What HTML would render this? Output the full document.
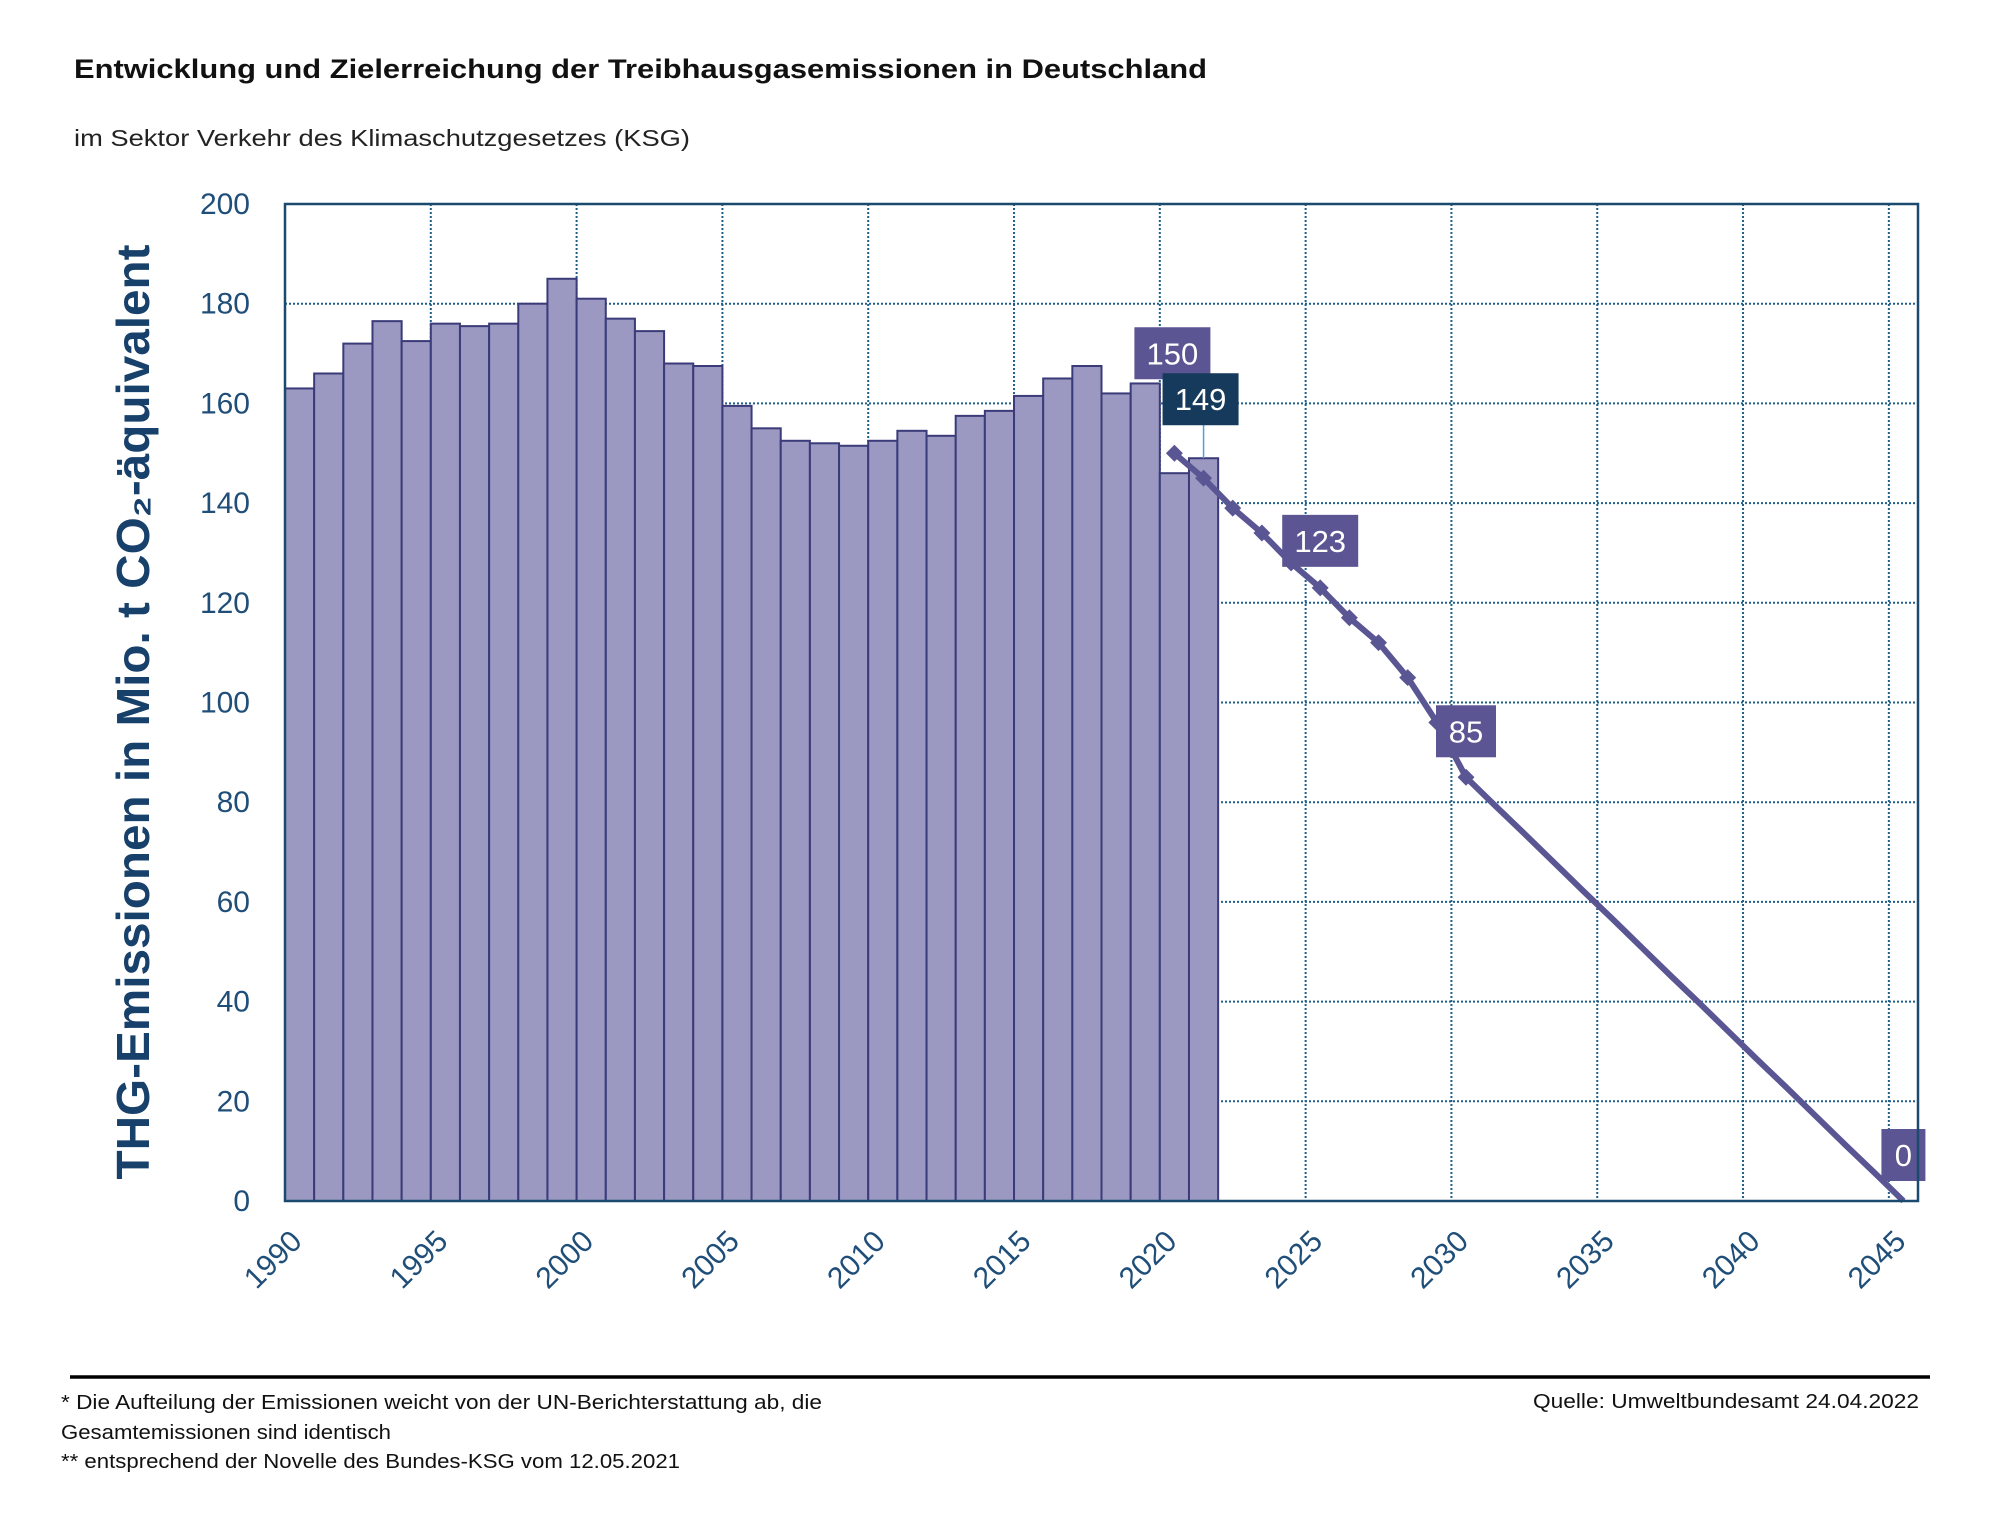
<!DOCTYPE html>
<html><head><meta charset="utf-8"><style>
body{margin:0;background:#fff;}
svg{display:block;font-family:"Liberation Sans",sans-serif;}
</style></head><body>
<svg id="c" width="1989" height="1527" viewBox="0 0 1989 1527" xmlns="http://www.w3.org/2000/svg">
<text x="74" y="78" font-size="27" font-weight="bold" fill="#111" textLength="1133" lengthAdjust="spacingAndGlyphs">Entwicklung und Zielerreichung der Treibhausgasemissionen in Deutschland</text>
<text x="74" y="146" font-size="23" fill="#222" textLength="616" lengthAdjust="spacingAndGlyphs">im Sektor Verkehr des Klimaschutzgesetzes (KSG)</text>
<g id="grid"></g>
<g id="bars"></g>
<g id="line"></g>
<g id="yaxis"></g>
<g id="xaxis"></g>
<g id="labels"></g>
<text transform="translate(149,712) rotate(-90)" text-anchor="middle" font-size="46" font-weight="bold" fill="#17406a" textLength="935" lengthAdjust="spacingAndGlyphs">THG-Emissionen in Mio. t CO₂-äquivalent</text>
<line x1="70" y1="1377" x2="1930" y2="1377" stroke="#000" stroke-width="3.5"/>
<text x="61" y="1409" font-size="20" fill="#111" textLength="761" lengthAdjust="spacingAndGlyphs">* Die Aufteilung der Emissionen weicht von der UN-Berichterstattung ab, die</text>
<text x="61" y="1439" font-size="20" fill="#111" textLength="330" lengthAdjust="spacingAndGlyphs">Gesamtemissionen sind identisch</text>
<text x="61" y="1468" font-size="20" fill="#111" textLength="619" lengthAdjust="spacingAndGlyphs">** entsprechend der Novelle des Bundes-KSG vom 12.05.2021</text>
<text x="1533" y="1408" font-size="20" fill="#111" textLength="386" lengthAdjust="spacingAndGlyphs">Quelle: Umweltbundesamt  24.04.2022</text>
</svg>
<script>
const barYears=[1990,1991,1992,1993,1994,1995,1996,1997,1998,1999,2000,2001,2002,2003,2004,2005,2006,2007,2008,2009,2010,2011,2012,2013,2014,2015,2016,2017,2018,2019,2020,2021];
const barValues=[163,166,172,176.5,172.5,176,175.5,176,180,185,181,177,174.5,168,167.5,159.5,155,152.5,152,151.5,152.5,154.5,153.5,157.5,158.5,161.5,165,167.5,162,164,146,149];
const lineYears=[2020,2021,2022,2023,2024,2025,2026,2027,2028,2029,2030,2031,2032,2033,2034,2035,2036,2037,2038,2039,2040,2041,2042,2043,2044,2045];
const lineValues=[150,145,139,134,128,123,117,112,105,96,85,79.3,73.7,68,62.3,56.7,51,45.3,39.7,34,28.3,22.7,17,11.3,5.7,0];
const markerUntil=2030;
const yTicks=[0,20,40,60,80,100,120,140,160,180,200];
const xTicks=[1990,1995,2000,2005,2010,2015,2020,2025,2030,2035,2040,2045];
const labelYears=[2020,2025,2030,2045];
const labelTexts=["150","123","85","0"];
const barLabel={year:2021,text:"149"};

const L=285,R=1918,T=204,B=1201,Y0=1990,NY=56;
const bw=(R-L)/NY;
const x=y=>L+(y-Y0)*bw;
const xc=y=>x(y)+bw/2;
const yv=v=>B-(v/200)*(B-T);
const NS="http://www.w3.org/2000/svg";
function mk(tag,parent,attrs){const e=document.createElementNS(NS,tag);for(const k in attrs)e.setAttribute(k,attrs[k]);parent.appendChild(e);return e;}
const grid=document.getElementById('grid');
yTicks.forEach(t=>{if(t===0||t===200)return;const l=mk('line',grid,{x1:L,x2:R,y1:yv(t),y2:yv(t),stroke:'#1f5f8b','stroke-width':2,'stroke-dasharray':'2,2'});

});
xTicks.forEach(t=>{if(t===1990)return;const l=mk('line',grid,{x1:x(t),x2:x(t),y1:T,y2:B,stroke:'#1f5f8b','stroke-width':2,'stroke-dasharray':'2,2'});

});
const bars=document.getElementById('bars');
barYears.forEach((yr,i)=>{const r=mk('rect',bars,{x:x(yr),y:yv(barValues[i]),width:bw,height:B-yv(barValues[i]),fill:'#9b99c1',stroke:'#3a3b78','stroke-width':2});

});
const frame=mk('rect',grid.parentNode,{x:L,y:T,width:R-L,height:B-T,fill:'none',stroke:'#1b4a6e','stroke-width':2.5});


const lg=document.getElementById('line');
const p=mk('polyline',lg,{points:lineYears.map((yr,i)=>xc(yr)+','+yv(lineValues[i])).join(' '),fill:'none',stroke:'#5a5593','stroke-width':6});


lineYears.forEach((yr,i)=>{if(yr>markerUntil)return;const m=mk('rect',lg,{x:xc(yr)-6,y:yv(lineValues[i])-6,width:12,height:12,fill:'#5a5593',transform:`rotate(45 ${xc(yr)} ${yv(lineValues[i])})`});

});
const ya=document.getElementById('yaxis');
yTicks.forEach(t=>{const e=mk('text',ya,{x:250,y:yv(t)+10,'text-anchor':'end','font-size':30,fill:'#1f4e79'});e.textContent=t;

});
const xa=document.getElementById('xaxis');
xTicks.forEach(t=>{const cx=xc(t)+4,cy=B+42;const e=mk('text',xa,{x:cx,y:cy,'text-anchor':'end','font-size':30,fill:'#1f4e79',transform:`rotate(-45 ${cx} ${cy})`});e.textContent=t;

});
const lb=document.getElementById('labels');
function box(cx,cy,txt,fill,name){const w=txt.length*16+28,h=52;const g=mk('g',lb,{});


mk('rect',g,{x:cx-w/2,y:cy-h/2,width:w,height:h,fill:fill});const t=mk('text',g,{x:cx,y:cy+11,'text-anchor':'middle','font-size':31,fill:'#fff'});t.textContent=txt;}
const offs={2020:[-2,-100],2025:[0,-47],2030:[0,-46],2045:[0,-46]};
labelYears.forEach((yr,i)=>{const v=lineValues[lineYears.indexOf(yr)];const o=offs[yr]||[0,-45];box(xc(yr)+o[0],yv(v)+o[1],labelTexts[i],'#5b5593','label-'+yr);});
const bi=barYears.indexOf(barLabel.year);
const bl=mk('line',lb,{x1:xc(barLabel.year),x2:xc(barLabel.year),y1:yv(barValues[bi]),y2:yv(barValues[bi])-35,stroke:'#4aa3d8','stroke-width':1.5});


box(xc(barLabel.year)-3,yv(barValues[bi])-59,barLabel.text,'#163a5c','bar-label-'+barLabel.year);
</script>
</body></html>
